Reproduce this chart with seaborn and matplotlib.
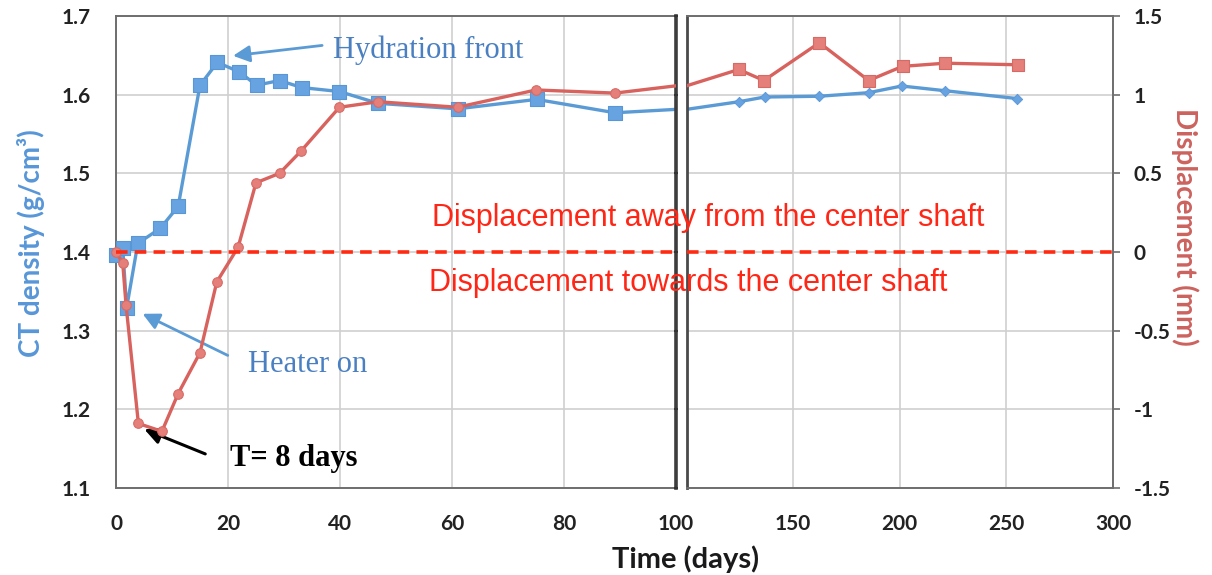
import matplotlib
matplotlib.use("Agg")
import matplotlib.pyplot as plt
import seaborn as sns
import pandas as pd

# ---------------- data ----------------
days_early_ct = [0, 1.2, 1.9, 3.9, 7.9, 11.1, 15.0, 18.1, 22.0, 25.1, 29.2, 33.2, 39.9, 46.8, 61.0, 75.1, 89.1]
density_early = [1.396, 1.405, 1.329, 1.411, 1.430, 1.458, 1.612, 1.641, 1.629, 1.612, 1.618, 1.609, 1.604, 1.589, 1.582, 1.594, 1.577]
days_late_ct = [124.5, 136.6, 162.3, 185.4, 200.9, 221.3, 255.2]
density_late = [1.591, 1.597, 1.598, 1.6025, 1.611, 1.605, 1.595]

days_early_disp = [0, 1.2, 1.8, 4.0, 8.2, 11.1, 15.0, 18.0, 21.8, 25.0, 29.2, 33.0, 39.9, 46.8, 61.0, 75.0, 89.1]
disp_early = [0.0, -0.07, -0.34, -1.09, -1.14, -0.90, -0.64, -0.19, 0.03, 0.44, 0.50, 0.64, 0.92, 0.955, 0.92, 1.03, 1.01]
days_late_disp = [124.5, 136.3, 162.3, 185.4, 201.3, 221.3, 255.5]
disp_late = [1.16, 1.09, 1.33, 1.09, 1.18, 1.20, 1.19]

x_ticks_left = [0, 20, 40, 60, 80, 100]
x_ticks_right = [150, 200, 250, 300]
density_ticks = [1.1, 1.2, 1.3, 1.4, 1.5, 1.6, 1.7]
disp_ticks = [-1.5, -1, -0.5, 0, 0.5, 1, 1.5]
disp_tick_labels = ["-1.5", "-1", "-0.5", "0", "0.5", "1", "1.5"]

ct_df = pd.DataFrame({"day": days_early_ct + days_late_ct, "density": density_early + density_late})
disp_df = pd.DataFrame({"day": days_early_disp + days_late_disp, "disp": disp_early + disp_late})

# ---------------- style ----------------
sns.set_style("white")
plt.rcParams["font.family"] = ["Lato", "DejaVu Sans"]

BLUE_LINE = "#5b9bd5"
BLUE_MARK = "#67a3e0"
RED_LINE = "#d8625d"
RED_MARK = "#e57f7a"
DASH = "#ff2a12"
TEXT_RED = "#ff2616"
ANNOT_BLUE = "#4a80c2"
LABEL_BLUE = "#5796d8"
LABEL_RED = "#cc625e"
GRID = "#cfcfcf"
SPINE = "#6e6e6e"

fig = plt.figure(figsize=(12.12, 5.75), dpi=100)
W, H = 1212, 575
bottom = 1 - 488 / H
height = (488 - 16) / H
axL = fig.add_axes([116 / W, bottom, (676 - 116) / W, height])
axR = fig.add_axes([686.5 / W, bottom, (1113 - 686.5) / W, height])
axLt = axL.twinx()
axRt = axR.twinx()

for ax, xlim, xt in [(axL, (0, 100), x_ticks_left), (axR, (100, 300), x_ticks_right)]:
    ax.set_xlim(*xlim)
    ax.set_ylim(1.1, 1.7)
    ax.set_xticks(xt)
    ax.set_yticks(density_ticks)
    ax.grid(True, color=GRID, lw=1.2)
    ax.set_axisbelow(True)
    ax.tick_params(axis="x", length=0, pad=19, labelsize=15)
    for lab in ax.get_xticklabels():
        lab.set_fontweight("bold")
        lab.set_color("#222222")
    for s in ax.spines.values():
        s.set_color(SPINE)
        s.set_linewidth(1.4)

for ax in (axLt, axRt):
    ax.set_ylim(-1.5, 1.5)
    ax.set_yticks(disp_ticks)
    for s in ax.spines.values():
        s.set_visible(False)

# left density axis labels
axL.tick_params(axis="y", length=0, pad=18, labelsize=15)
axL.set_yticklabels([f"{v:.1f}" for v in density_ticks], fontweight="bold", color="#222222")
axL.spines["right"].set_color("#3d3d3d")
axL.spines["right"].set_linewidth(2.6)
axR.tick_params(axis="y", left=False, labelleft=False)
axR.spines["left"].set_color("#4a4a4a")
axR.spines["left"].set_linewidth(2.0)
axR.spines["right"].set_visible(False)

axLt.tick_params(axis="y", right=True, labelright=False, direction="inout", length=3, width=1.5, color="#333333")
axRt.spines["right"].set_visible(True)
axRt.spines["right"].set_color(SPINE)
axRt.spines["right"].set_linewidth(1.4)
axRt.tick_params(axis="y", right=True, direction="out", length=5, width=1.2, color=SPINE, pad=10, labelsize=15)
axRt.set_yticklabels(disp_tick_labels, fontweight="bold", color="#222222")

# ---------------- data marks ----------------
for ax in (axL, axR):
    sns.lineplot(data=ct_df, x="day", y="density", ax=ax, color=BLUE_LINE, lw=2.4, estimator=None, sort=False)
sns.scatterplot(x=days_early_ct, y=density_early, ax=axL, marker="s", s=95, color=BLUE_MARK,
                edgecolor="#5896d6", linewidth=0.8, clip_on=False, zorder=3)
sns.scatterplot(x=days_late_ct, y=density_late, ax=axR, marker="D", s=28, color=BLUE_MARK,
                edgecolor="#5896d6", linewidth=0.6, zorder=3)

for ax in (axLt, axRt):
    sns.lineplot(data=disp_df, x="day", y="disp", ax=ax, color=RED_LINE, lw=2.4, estimator=None, sort=False)
    ax.axhline(0, color=DASH, lw=2.6, ls=(0, (3.2, 2.0)), zorder=4)
sns.scatterplot(x=days_early_disp, y=disp_early, ax=axLt, marker="o", s=48, color=RED_MARK,
                edgecolor="#d86a65", linewidth=0.8, clip_on=False, zorder=3)
sns.scatterplot(x=days_late_disp, y=disp_late, ax=axRt, marker="s", s=70, color=RED_MARK,
                edgecolor="#d86a65", linewidth=0.8, zorder=3)

axLt.set_xlim(0, 100)
axRt.set_xlim(100, 300)
for ax in (axL, axR, axLt, axRt):
    ax.set_xlabel("")
for ax in (axR, axLt):
    ax.set_ylabel("")

# ---------------- axis labels ----------------
axL.set_ylabel("CT density (g/cm³)", fontsize=20, fontweight="bold", color=LABEL_BLUE,
               ha="center", va="center")
axL.yaxis.set_label_coords(-0.152, 0.519)
axRt.set_ylabel("Displacement (mm)", fontsize=20, fontweight="bold", color=LABEL_RED,
                rotation=270, ha="center", va="center")
axRt.yaxis.set_label_coords(1.169, 0.553)
fig.supxlabel("Time (days)", x=686 / W, y=1 - 559 / H, va="center", fontsize=21, fontweight="bold",
              color="#1a1a1a")

# ---------------- annotations ----------------
serif = ["Liberation Serif", "DejaVu Serif"]
head = "-|>,head_length=1.0,head_width=0.5"
axL.annotate("", xy=(20.4, 1.649), xytext=(37.3, 1.663),
             arrowprops=dict(arrowstyle=head, color=BLUE_LINE, lw=2))
axL.text(38.75, 1.657, "Hydration front", family=serif, fontsize=22, color=ANNOT_BLUE, ha="left", va="center")
axL.annotate("", xy=(4.3, 1.323), xytext=(20.4, 1.267),
             arrowprops=dict(arrowstyle=head, color=BLUE_LINE, lw=2))
axL.text(23.6, 1.2565, "Heater on", family=serif, fontsize=22, color=ANNOT_BLUE, ha="left", va="center")
axL.annotate("", xy=(4.6, 1.176), xytext=(16.4, 1.142),
             arrowprops=dict(arrowstyle=head, color="black", lw=2.2))
axL.text(20.4, 1.138, "T= 8 days", family=serif, fontsize=22, fontweight="bold", color="black",
         ha="left", va="center")

sans = ["Liberation Sans", "DejaVu Sans"]
fig.text(708 / W, 1 - 218 / H, "Displacement away from the center shaft", family=sans,
         fontsize=22, color=TEXT_RED, ha="center", va="center", zorder=10)
fig.text(688 / W, 1 - 283 / H, "Displacement towards the center shaft", family=sans,
         fontsize=22, color=TEXT_RED, ha="center", va="center", zorder=10)

fig.savefig("out.png", dpi=100)
